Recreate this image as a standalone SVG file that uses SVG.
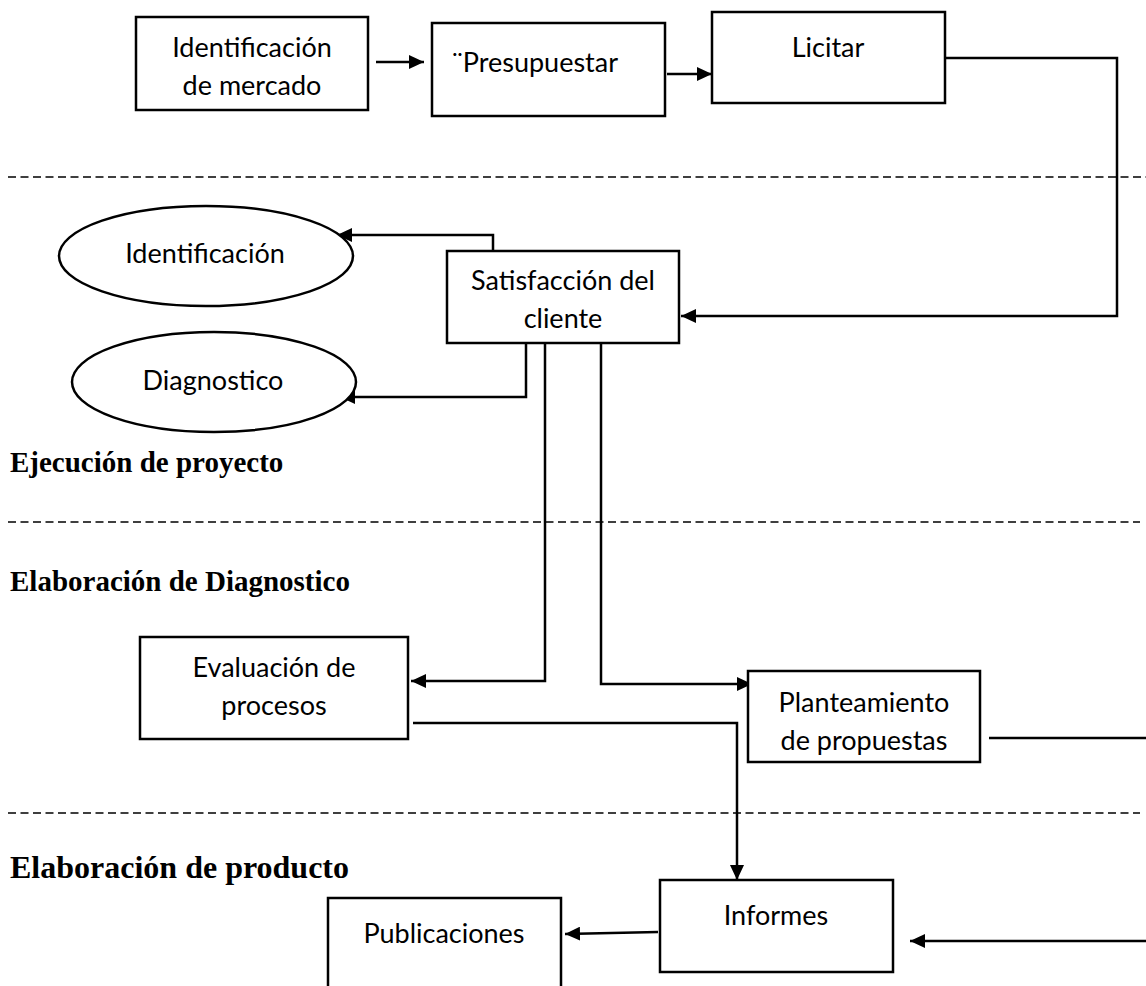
<svg xmlns="http://www.w3.org/2000/svg" width="1146" height="986" viewBox="0 0 1146 986">
<style>
.box{fill:#fff;stroke:#000;stroke-width:2.5}
.t{font-family:Lato,"Liberation Sans",sans-serif;font-size:27px;fill:#000;text-anchor:middle}
.sec{font-family:"Liberation Serif","Times New Roman",serif;font-weight:bold;fill:#000}
.dash{stroke:#000;stroke-width:1.6;stroke-dasharray:8 4.5;fill:none}
.c{fill:none;stroke:#000;stroke-width:2.5}
</style>
<defs>
<marker id="ah" markerUnits="userSpaceOnUse" markerWidth="17" markerHeight="14" refX="15" refY="7" orient="auto">
<path d="M0,0 L15,7 L0,14 Z" fill="#000"/>
</marker>
</defs>
<rect width="1146" height="986" fill="#fff"/>
<g id="separators">
<line class="dash" x1="8" y1="177" x2="1146" y2="177"/>
<line class="dash" x1="8" y1="522" x2="1140" y2="522"/>
<line class="dash" x1="8" y1="813" x2="1140" y2="813"/>
</g>
<g id="labels">
<text class="sec" x="10" y="472" font-size="29">Ejecución de proyecto</text>
<text class="sec" x="10" y="591" font-size="29">Elaboración de Diagnostico</text>
<text class="sec" x="10" y="878" font-size="32">Elaboración de producto</text>
</g>
<g id="connectors">
<line class="c" x1="376" y1="62" x2="424" y2="62" marker-end="url(#ah)"/>
<line class="c" x1="667" y1="74" x2="712" y2="74" marker-end="url(#ah)"/>
<polyline class="c" points="945,58 1117,58 1117,316 681,316" marker-end="url(#ah)"/>
<polyline class="c" points="493,251 493,235 337,235" marker-end="url(#ah)"/>
<polyline class="c" points="526,343 526,397 340,397" marker-end="url(#ah)"/>
<polyline class="c" points="558,338 545,338 545,681 411,681" marker-end="url(#ah)"/>
<polyline class="c" points="601,342 601,684 752,684" marker-end="url(#ah)"/>
<polyline class="c" points="413,723 737,723 737,880" marker-end="url(#ah)"/>
<line class="c" x1="989" y1="738" x2="1146" y2="738"/>
<line class="c" x1="1146" y1="941" x2="910" y2="941" marker-end="url(#ah)"/>
<line class="c" x1="658" y1="932" x2="565" y2="934" marker-end="url(#ah)"/>
</g>
<g id="n-identificacion-mercado">
<rect class="box" x="136" y="17" width="232" height="93"/>
<text class="t" x="252" y="57">Identificación</text>
<text class="t" x="252" y="95">de mercado</text>
</g>
<g id="n-presupuestar">
<rect class="box" x="432" y="23" width="233" height="93"/>
<text class="t" x="535" y="72">¨Presupuestar</text>
</g>
<g id="n-licitar">
<rect class="box" x="712" y="12" width="233" height="91"/>
<text class="t" x="828" y="57">Licitar</text>
</g>
<g id="n-satisfaccion">
<rect class="box" x="447" y="251" width="232" height="92"/>
<text class="t" x="563" y="290">Satisfacción del</text>
<text class="t" x="563" y="328">cliente</text>
</g>
<g id="n-identificacion">
<ellipse class="box" cx="206" cy="256" rx="147" ry="50"/>
<text class="t" x="205" y="263">Identificación</text>
</g>
<g id="n-diagnostico">
<ellipse class="box" cx="214" cy="382" rx="142" ry="50"/>
<text class="t" x="213" y="390">Diagnostico</text>
</g>
<g id="n-evaluacion">
<rect class="box" x="140" y="637" width="268" height="102"/>
<text class="t" x="274" y="677">Evaluación de</text>
<text class="t" x="274" y="715">procesos</text>
</g>
<g id="n-planteamiento">
<rect class="box" x="748" y="671" width="232" height="91"/>
<text class="t" x="864" y="712">Planteamiento</text>
<text class="t" x="864" y="750">de propuestas</text>
</g>
<g id="n-informes">
<rect class="box" x="660" y="880" width="233" height="92"/>
<text class="t" x="776" y="925">Informes</text>
</g>
<g id="n-publicaciones">
<rect class="box" x="328" y="898" width="233" height="100"/>
<text class="t" x="444" y="943">Publicaciones</text>
</g>
</svg>
